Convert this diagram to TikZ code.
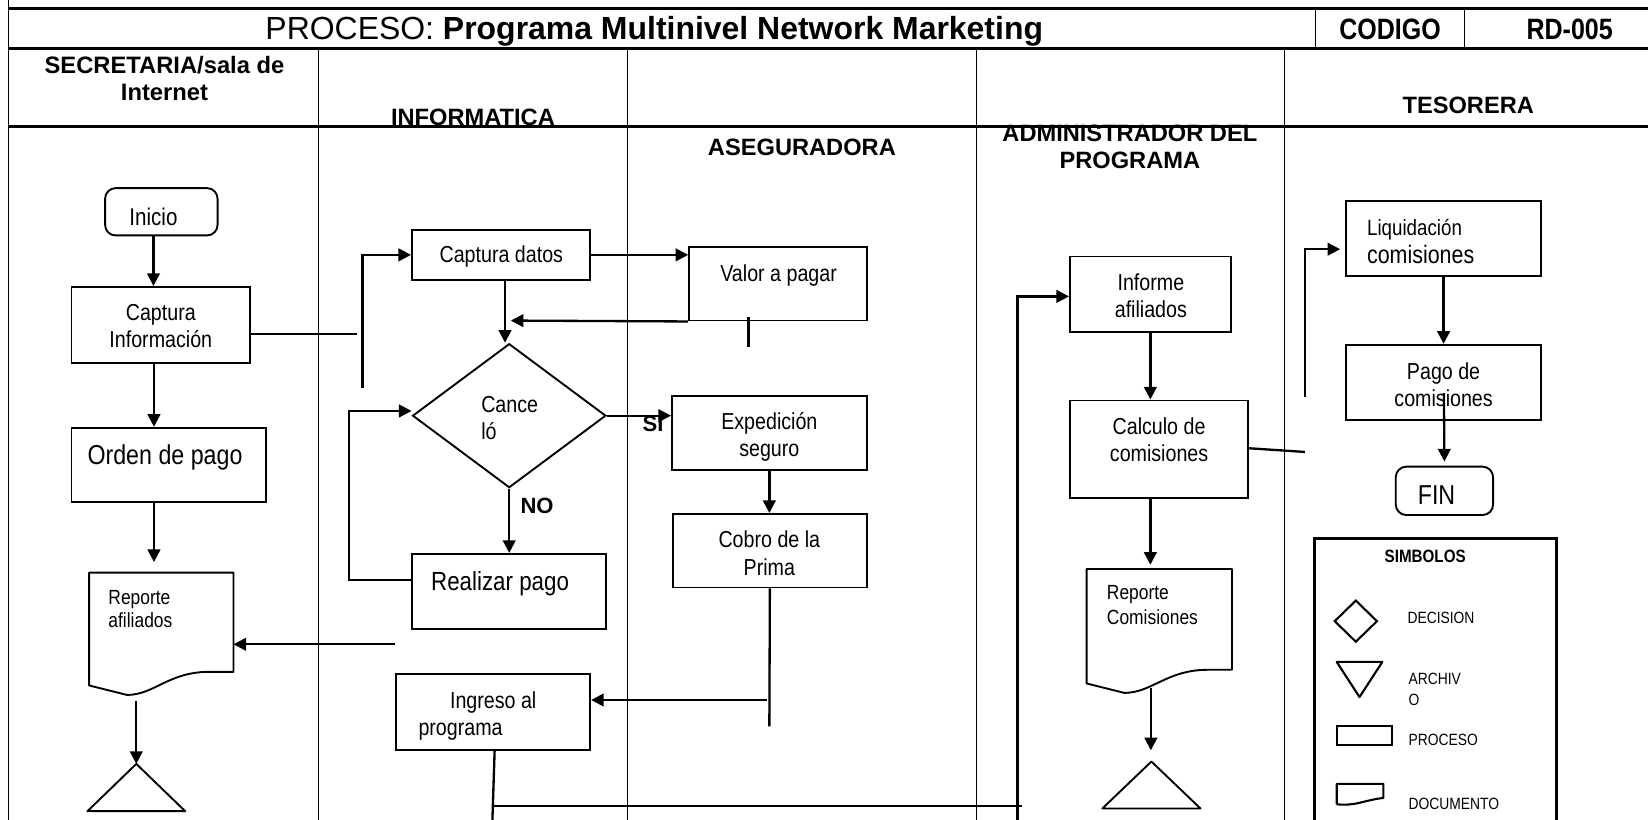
\documentclass[tikz,border=0pt]{standalone}
\usepackage{fontspec}
\setmainfont{Liberation Sans}
\newfontfamily\narrowfont{Liberation Sans}[FakeStretch=0.85]
\usetikzlibrary{arrows.meta,shapes.geometric,calc}
\newcommand\fsz[2]{\fontsize{#1pt}{#2pt}\selectfont}
% document symbol drawn around an (invisible) rectangle node
\newcommand\docoutline[1]{%
  \draw[docline] (#1.south west) -- (#1.north west) -- (#1.north east)
    -- ($(#1.south east)+(0,-13)$) -- ($(#1.south east)+(-23,-13)$)
    .. controls ($(#1.south east)+(-62,-13)$) and ($(#1.south west)+(62,9)$)
    .. ($(#1.south west)+(36,9)$) -- cycle;}
\begin{document}
\begin{tikzpicture}[x=1pt,y=-1pt,
  box/.style={draw, line width=1.8pt, rectangle, inner sep=0pt},
  rbox/.style={box, rounded corners=10pt},
  ghost/.style={rectangle, inner sep=0pt},
  docline/.style={line width=1.8pt, line join=round},
  lbl/.style={inner sep=0pt, align=center, yshift=-2.3pt, font=\narrowfont\fsz{22}{26}},
  lbll/.style={inner sep=0pt, align=left, anchor=west, yshift=-2.3pt, font=\narrowfont\fsz{22}{26}},
  hdr/.style={inner sep=0pt, align=center, font=\bfseries\fsz{22.5}{26}},
  leg/.style={inner sep=0pt, align=left, anchor=west, font=\narrowfont\fsz{15.5}{20}},
  yn/.style={inner sep=0pt, font=\bfseries\fsz{21}{24}},
  arr/.style={line width=2.2pt, -{Triangle[length=12pt,width=12pt]}},
  ln/.style={line width=2.2pt},
  grid/.style={line width=1pt},
  rule/.style={line width=2.6pt}]
\useasboundingbox (0,0) rectangle (1568,780);

% ---------- table frame ----------
\draw[line width=1.5pt] (8,0) -- (8,780);
\draw[rule] (8,8) -- (1568,8);
\draw[rule] (8,46) -- (1568,46);
\draw[grid] (1252,8) -- (1252,46);
\draw[grid] (1393,8) -- (1393,46);
\foreach \cx in {303,597,929,1222} \draw[grid] (\cx,46) -- (\cx,780);

% ---------- title row ----------
\node[inner sep=0pt, font=\fsz{30.4}{34}] (title) at (622.5,29.7)
  {PROCESO: \textbf{Programa Multinivel Network Marketing}};
\node[inner sep=0pt, font=\narrowfont\bfseries\fsz{28}{32}] (codigo) at (1322.5,27.6) {CODIGO};
\node[inner sep=0pt, font=\narrowfont\bfseries\fsz{28}{32}] (codval) at (1493.5,27.6) {RD-005};

% ---------- lane headers ----------
\node[hdr, font=\bfseries\fsz{22.6}{25.4}] (h-sec) at (156.5,74.5) {SECRETARIA/sala de\\Internet};
\node[hdr] (h-inf) at (450,112) {INFORMATICA};
\node[hdr] (h-ase) at (763,140) {ASEGURADORA};
\node[hdr] (h-adm) at (1075,140) {ADMINISTRADOR DEL\\PROGRAMA};
\node[hdr] (h-tes) at (1397,100) {TESORERA};
\draw[line width=2.8pt] (8,120) -- (1568,120);

% ---------- SECRETARIA lane ----------
\node[rbox, minimum width=107pt, minimum height=45pt] (inicio) at (153.5,201.5) {};
\node[lbl, font=\narrowfont\fsz{23}{26}] (inicio-t) at (146,203.6) {Inicio};
\node[box, minimum width=170pt, minimum height=72pt] (capinfo) at (153,309) {};
\node[lbl] (capinfo-t) at (153,308.2) {Captura\\Información};
\node[box, minimum width=185pt, minimum height=71pt] (orden) at (160.5,442.5) {};
\node[lbl, font=\narrowfont\fsz{26}{30}] (orden-t) at (157,433) {Orden de pago};
\node[ghost, minimum width=137pt, minimum height=107pt] (repafil) at (153.5,598.5) {};
\docoutline{repafil}
\node[lbll, font=\narrowfont\fsz{19.5}{22}] (repafil-t) at (103,577.3) {Reporte\\afiliados};
\node[ghost, minimum width=92.6pt, minimum height=44.6pt] (archA) at (129.7,749.3) {};
\draw[docline] (archA.south west) -- (archA.north) -- (archA.south east) -- cycle;

% ---------- INFORMATICA lane ----------
\node[box, minimum width=169pt, minimum height=47pt] (capdat) at (476.5,242.5) {};
\node[lbl] (capdat-t) at (477,242) {Captura datos};
\node[diamond, draw, line width=1.8pt, inner sep=0pt, aspect=1.343,
      minimum width=184pt, minimum height=137pt] (dec) at (484.5,395.5) {};
\node[lbll] (dec-t) at (457.7,395.4) {Cance\\ló};
\node[box, minimum width=185pt, minimum height=71.6pt] (realizar) at (484.2,562.8) {};
\node[lbl, font=\narrowfont\fsz{25}{29}] (realizar-t) at (475.8,553.5) {Realizar pago};
\node[box, minimum width=185pt, minimum height=72pt] (ingreso) at (469,677.6) {};
\node[lbll] (ingreso-t) at (398,679) {\hspace*{30pt}Ingreso al\\programa};
\node[yn] (lbl-no) at (511,481.5) {NO};

% ---------- ASEGURADORA lane ----------
\node[box, minimum width=169pt, minimum height=70.3pt] (valor) at (740.2,269.8) {};
\node[lbl] (valor-t) at (740.8,259.5) {Valor a pagar};
\node[box, minimum width=185.3pt, minimum height=70.5pt] (exped) at (732,411.8) {};
\node[lbl] (exped-t) at (732,413.3) {Expedición\\seguro};
\node[box, minimum width=185pt, minimum height=70pt] (cobro) at (732.5,524) {};
\node[lbl] (cobro-t) at (732,524.2) {Cobro de la\\Prima};

% ---------- ADMINISTRADOR lane ----------
\node[box, minimum width=153pt, minimum height=71.6pt] (informe) at (1094.5,279.8) {};
\node[lbl] (informe-t) at (1095,278.8) {Informe\\afiliados};
\node[box, minimum width=169.6pt, minimum height=93pt] (calculo) at (1102.8,427.5) {};
\node[lbl] (calculo-t) at (1102.8,416) {Calculo de\\comisiones};
\node[ghost, minimum width=138pt, minimum height=108.5pt] (repcom) at (1103,595.8) {};
\docoutline{repcom}
\node[lbll, font=\narrowfont\fsz{19.5}{23.8}] (repcom-t) at (1053,572.9) {Reporte\\Comisiones};
\node[ghost, minimum width=93pt, minimum height=44.3pt] (archC) at (1095.5,746.9) {};
\draw[docline] (archC.south west) -- (archC.north) -- (archC.south east) -- cycle;

% ---------- TESORERA lane ----------
\node[box, minimum width=185pt, minimum height=71.7pt] (liquid) at (1373.5,227.1) {};
\node[lbll, font=\narrowfont\fsz{21}{26.7}] (liquid-t) at (1300.5,227.8)
  {Liquidación\\{\fsz{24}{26.7}comisiones}};
\node[box, minimum width=185pt, minimum height=72pt] (pago) at (1373.5,364) {};
\node[lbl] (pago-t) at (1373.5,364) {Pago de\\comisiones};
\node[rbox, minimum width=92.6pt, minimum height=46pt] (fin) at (1374.3,467) {};
\node[lbl, font=\narrowfont\fsz{26}{30}] (fin-t) at (1366.8,468.7) {FIN};

% ---------- symbol key ----------
\node[draw, line width=3pt, inner sep=0pt, minimum width=230pt, minimum height=290pt] (key) at (1366,657) {};
\node[inner sep=0pt, font=\narrowfont\bfseries\fsz{17}{20}] (key-t) at (1356,529.6) {SIMBOLOS};
\node[diamond, draw, line width=2pt, inner sep=0pt, aspect=1.03,
      minimum width=41pt, minimum height=40pt] (k-dec) at (1290,591) {};
\node[leg] (k-dec-t) at (1339,587.7) {DECISION};
\node[ghost, minimum width=43pt, minimum height=33pt] (k-arch) at (1293.5,646.5) {};
\draw[ln, line width=2pt, line join=round] (k-arch.north west) -- (k-arch.north east) -- (k-arch.south) -- cycle;
\node[leg] (k-arch-t) at (1340,656) {ARCHIV\\O};
\node[draw, line width=2pt, inner sep=0pt, minimum width=52pt, minimum height=18pt] (k-proc) at (1298,700) {};
\node[leg] (k-proc-t) at (1340,704) {PROCESO};
\node[ghost, minimum width=44pt, minimum height=19pt] (k-doc) at (1294,755.5) {};
\draw[ln, line width=2pt, line join=round] (k-doc.south west) -- (k-doc.north west) -- (k-doc.north east)
  -- ($(k-doc.south east)+(0,-6)$) .. controls ($(k-doc.south east)+(-18,-4)$) and ($(k-doc.south west)+(18,2)$) .. (k-doc.south west);
\node[leg] (k-doc-t) at (1340,765) {DOCUMENTO};

% ---------- free ends of connectors ----------
\coordinate (j1) at (340,318);
\coordinate (j2) at (345,369);
\coordinate (j3) at (486,305);
\coordinate (j4) at (332,391);
\coordinate (j5) at (732,691);
\coordinate (j6) at (730,666);
\coordinate (j7) at (376,613);
\coordinate (j8) at (468.5,780);
\coordinate (j9) at (468.5,767);
\coordinate (j10) at (972,767);
\coordinate (j11) at (968,780);
\coordinate (j12) at (1241.5,430);
\coordinate (j13) at (1241.5,377.4);

% ---------- connectors ----------
\draw[arr] ([xshift=-7.5pt]inicio.south) -- ([xshift=-7pt]capinfo.north);
\draw[arr] ([xshift=-6.5pt]capinfo.south) -- ([xshift=-14pt]orden.north);
\draw[ln] (capinfo.east |- j1) -- (j1);
\draw[arr] (j2) |- (capdat.west);
\draw[arr] (capdat.east) -- (capdat.east -| valor.west);
\draw[arr] ([xshift=4pt]capdat.south) -- ([xshift=4pt]capdat.south |- dec.north);
\draw[arr] (valor.south west) -- (j3);
\draw[ln] ([xshift=-28pt,yshift=4pt]valor.south) -- ++(0,28);
\draw[arr] ([yshift=10.8pt]realizar.west) -| (j4) -- (j4 -| dec.west);
\draw[arr] (dec.east) -- (dec.east -| exped.west);
\node[yn] (lbl-si) at (621.3,403.4) {SI};
\draw[arr] (dec.south) -- (dec.south |- realizar.north);
\draw[arr] (exped.south) -- (exped.south |- cobro.north);
\draw[ln] (cobro.south) -- (j5);
\draw[arr] (j6) -- (j6 -| ingreso.east);
\draw[arr] (j7) -- (j7 -| repafil.east);
\draw[arr] ([xshift=-14pt]orden.south) -- ([xshift=-7pt,yshift=10pt]repafil.north);
\draw[arr] ([yshift=59.4pt]archA.north) -- (archA.north);
\draw[ln] ([xshift=1.6pt]ingreso.south) -- (j8);
\draw[ln] (j9) -- (j10);
\draw[arr] (j11) |- ([yshift=-2.2pt]informe.west);
\draw[arr] (informe.south) -- (informe.south |- calculo.north);
\draw[ln] ([yshift=1pt]calculo.east) -- (j12);
\draw[arr] (calculo.south -| informe.south) -- ($(repcom.north -| informe.south)+(0,-4)$);
\draw[arr] ([xshift=-0.5pt,yshift=69.7pt]archC.north) -- ([xshift=-0.5pt,yshift=10.7pt]archC.north);
\draw[arr] (j13) |- ([xshift=-5pt,yshift=-10pt]liquid.west);
\draw[arr] (liquid.south) -- (liquid.south |- pago.north);
\draw[arr] ([xshift=0.3pt,yshift=-10pt]pago.center) -- ([yshift=4pt]fin.north);
\end{tikzpicture}
\end{document}
